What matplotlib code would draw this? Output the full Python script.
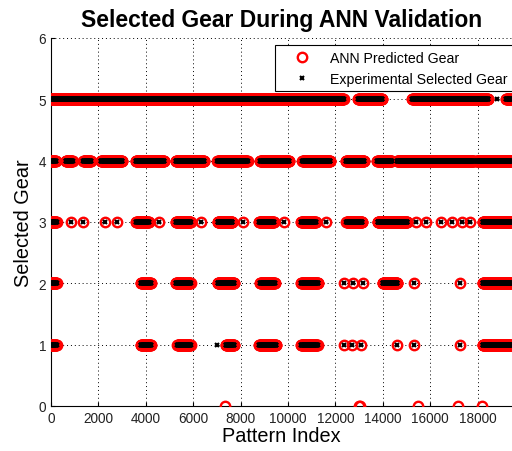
import numpy as np
import matplotlib
matplotlib.use('Agg')
import matplotlib.pyplot as plt

plt.rcParams['font.family'] = ['Liberation Sans', 'DejaVu Sans']

# runs of pattern index (start, end) where each gear was selected
gear5_runs = [(0, 12350), (12950, 13970), (15230, 18450), (19200, 19450)]
gear4_runs = [(0, 210), (620, 915), (1365, 1690), (2100, 3000), (3575, 4780),
              (5260, 6470), (7020, 8300), (8820, 10060), (10600, 11790),
              (12440, 13220), (13760, 14380), (14600, 17850), (17950, 19450)]
gear3_runs = [(0, 250), (840, 840), (1360, 1360), (2280, 2280), (2770, 2770),
              (3590, 4140), (4560, 4560), (5270, 5900), (6330, 6330),
              (7030, 7660), (8080, 8080), (8780, 9410), (9830, 9830),
              (10550, 11180), (11600, 11600), (12460, 13140), (13780, 15040),
              (15400, 15400), (15820, 15820), (16460, 16460), (16920, 16920),
              (17340, 17340), (17680, 17680), (18210, 19450)]
gear2_runs = [(0, 250), (3790, 4220), (5270, 5900), (7030, 7730), (8820, 9450),
              (10550, 11270), (12370, 12370), (12750, 12750), (13150, 13150),
              (13990, 14620), (15320, 15320), (17260, 17260), (18210, 19450)]
gear1_runs = [(0, 250), (3790, 4220), (5330, 5900), (7380, 7730), (8780, 9500),
              (10550, 11250), (12370, 12370), (12720, 12720), (13080, 13080),
              (14590, 14590), (15320, 15320), (17260, 17260), (18210, 19450)]

# points where the network got it wrong
ann_zero_idx = [7340, 12980, 13030, 15470, 17160, 18200]
exp_only_idx = [18800, 7000]
exp_only_gear = [5, 1]

runs = {5: gear5_runs, 4: gear4_runs, 3: gear3_runs, 2: gear2_runs, 1: gear1_runs}

idx, gear = [], []
for g, rr in runs.items():
    for a, b in rr:
        pts = np.arange(a, b + 1, 12)
        idx.extend(pts)
        gear.extend([g] * len(pts))
idx = np.array(idx)
gear = np.array(gear)

ann_x = np.concatenate([idx, ann_zero_idx])
ann_y = np.concatenate([gear, np.zeros(len(ann_zero_idx))])
exp_x = np.concatenate([idx, exp_only_idx])
exp_y = np.concatenate([gear, exp_only_gear])

fig = plt.figure(figsize=(5.12, 4.52), dpi=100)
ax = fig.add_axes([51 / 512, 45 / 452, 461 / 512, 368 / 452])

ax.plot(ann_x, ann_y, 'o', color='red', markerfacecolor='none', markersize=6.8,
        markeredgewidth=1.7, linestyle='none', label='ANN Predicted Gear', zorder=3)
ax.plot(exp_x, exp_y, 'x', color='black', markersize=3.5, markeredgewidth=1.5,
        linestyle='none', label='Experimental Selected Gear', zorder=4)

ax.set_xlim(0, 19450)
ax.set_ylim(0, 6)
ax.set_xticks(np.arange(0, 19000, 2000))
ax.set_yticks(np.arange(0, 7, 1))
ax.grid(True, linestyle=(0, (1, 3)), color='black', linewidth=0.7)
ax.tick_params(direction='in', length=3, labelsize=9.8, labelcolor='#222222')
ax.spines['top'].set_visible(False)
ax.spines['right'].set_visible(False)

ax.set_title('Selected Gear During ANN Validation', fontsize=16.5, fontweight='bold', pad=9)
ax.set_xlabel('Pattern Index', fontsize=14.3, labelpad=1)
ax.set_ylabel('Selected Gear', fontsize=14.3, labelpad=4)

leg = ax.legend(loc='upper left', bbox_to_anchor=((275 - 51) / 461, (407 - 46) / 368),
                fontsize=10.2, fancybox=False, framealpha=1, edgecolor='black',
                borderaxespad=0, handlelength=3.0, handletextpad=0.45,
                borderpad=0.4, labelspacing=0.5)
leg.get_frame().set_linewidth(0.8)

plt.savefig('out.png', dpi=100)
